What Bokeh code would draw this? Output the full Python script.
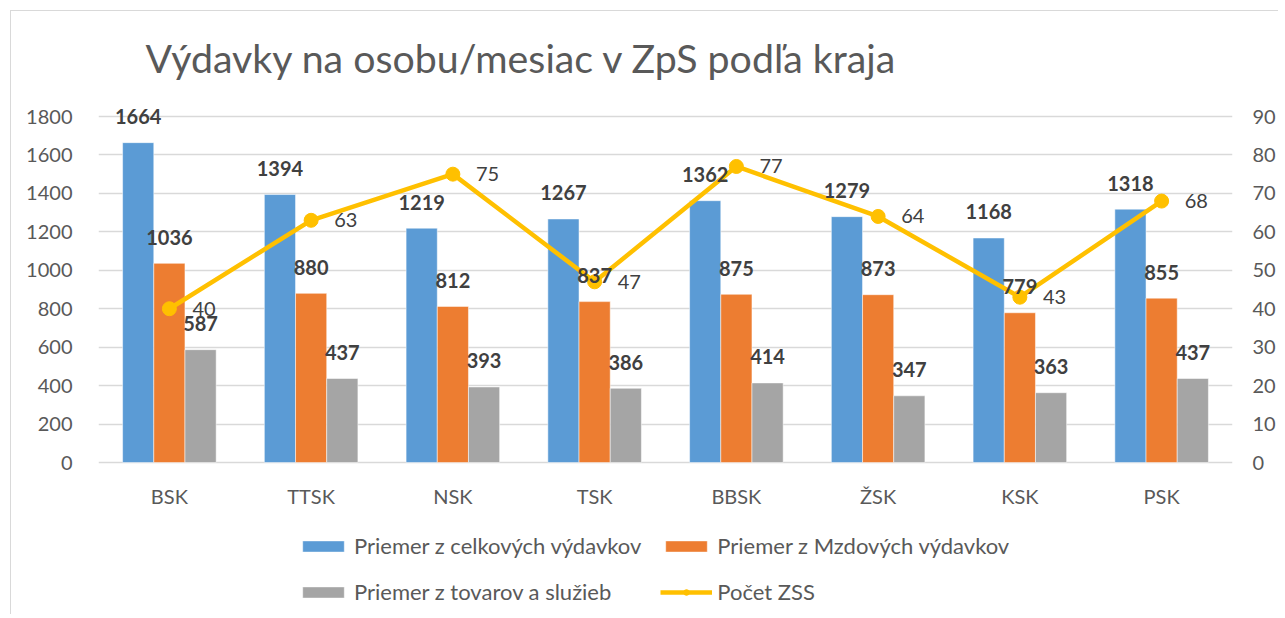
from bokeh.plotting import figure
from bokeh.models import ColumnDataSource, Range1d, LinearAxis, FixedTicker, Legend, LegendItem, Title
from bokeh.transform import dodge
from bokeh.core.properties import value
from bokeh.embed import file_html
from bokeh.resources import INLINE

kraje = ["BSK", "TTSK", "NSK", "TSK", "BBSK", "ŽSK", "KSK", "PSK"]
celkove = [1664, 1394, 1219, 1267, 1362, 1279, 1168, 1318]
mzdove = [1036, 880, 812, 837, 875, 873, 779, 855]
tovary = [587, 437, 393, 386, 414, 347, 363, 437]
pocet_zss = [40, 63, 75, 47, 77, 64, 43, 68]
left_ticks = [0, 200, 400, 600, 800, 1000, 1200, 1400, 1600, 1800]
right_ticks = [0, 10, 20, 30, 40, 50, 60, 70, 80, 90]

FONT = "Lato"
BLUE, ORANGE, GRAY, YELLOW = "#5B9BD5", "#ED7D31", "#A5A5A5", "#FFC000"
TXT = "#595959"
LBL = "#404040"

# layout (pixels): value axis 0..1800 occupies 346 px; frame extended above and below
PX_AXIS = 346
TOP_EXTRA = 16     # frame room above the 1800 line
BOTTOM_EXTRA = 144 # frame room below the 0 line (category labels + legend)
L_MAX, R_MAX = 1800, 90
l_end = L_MAX * (PX_AXIS + TOP_EXTRA) / PX_AXIS
l_start = -L_MAX * BOTTOM_EXTRA / PX_AXIS
r_end = R_MAX * (PX_AXIS + TOP_EXTRA) / PX_AXIS
r_start = -R_MAX * BOTTOM_EXTRA / PX_AXIS
OFF = 11  # outer margin + chart border

src = ColumnDataSource(dict(
    kraj=kraje, celk=celkove, mzd=mzdove, tov=tovary, poc=pocet_zss,
    celk_s=[str(v) for v in celkove], mzd_s=[str(v) for v in mzdove],
    tov_s=[str(v) for v in tovary], poc_s=[str(v) for v in pocet_zss],
    zero=[0] * len(kraje),
))

p = figure(x_range=kraje, y_range=Range1d(l_start, l_end),
           frame_width=1134, frame_height=PX_AXIS + TOP_EXTRA + BOTTOM_EXTRA,
           min_border_left=98 - OFF, min_border_right=45, min_border_top=100 - OFF,
           min_border_bottom=8,
           output_backend="svg", toolbar_location=None)
p.margin = (10, 0, 0, 10)
p.styles = {"border-left": "1px solid #D9D9D9", "border-top": "1px solid #D9D9D9"}
p.extra_y_ranges = {"y2": Range1d(r_start, r_end)}

title = Title(text="Výdavky na osobu/mesiac v ZpS podľa kraja", align="left", offset=47,
              text_font=FONT, text_font_size="39.3px", text_font_style="normal",
              text_color=TXT, standoff=39)
p.add_layout(title, "above")

p.outline_line_color = None
p.background_fill_color = "white"
p.border_fill_color = "white"

p.xgrid.grid_line_color = None
p.ygrid.grid_line_color = "#D9D9D9"
p.ygrid.grid_line_width = 1.3
p.yaxis.ticker = FixedTicker(ticks=left_ticks)
p.xaxis.visible = False

ya = p.yaxis[0]
ya.axis_line_color = None
ya.major_tick_line_color = None
ya.minor_tick_line_color = None
ya.major_label_text_font = FONT
ya.major_label_text_font_size = "20px"
ya.major_label_text_color = TXT
ya.major_label_standoff = 20

ax2 = LinearAxis(y_range_name="y2", ticker=FixedTicker(ticks=right_ticks))
ax2.axis_line_color = None
ax2.major_tick_line_color = None
ax2.minor_tick_line_color = None
ax2.major_label_text_font = FONT
ax2.major_label_text_font_size = "20px"
ax2.major_label_text_color = TXT
ax2.major_label_standoff = 14
p.add_layout(ax2, "right")

# category labels under the zero line
p.text(x="kraj", y="zero", text="kraj", source=src, text_align="center",
       text_baseline="middle", y_offset=33, text_font=value(FONT),
       text_font_size="20px", text_color=TXT)

W = 0.22
r1 = p.vbar(x=dodge("kraj", -W, range=p.x_range), top="celk", width=W, source=src,
            fill_color=BLUE, line_color="white", line_width=0.5)
r2 = p.vbar(x=dodge("kraj", 0, range=p.x_range), top="mzd", width=W, source=src,
            fill_color=ORANGE, line_color="white", line_width=0.5)
r3 = p.vbar(x=dodge("kraj", W, range=p.x_range), top="tov", width=W, source=src,
            fill_color=GRAY, line_color="white", line_width=0.5)

rl = p.line(x="kraj", y="poc", source=src, y_range_name="y2", line_color=YELLOW, line_width=4.5)
rs = p.scatter(x="kraj", y="poc", source=src, y_range_name="y2", size=14,
               fill_color=YELLOW, line_color=YELLOW)

for off, col, s in [(-W, "celk", "celk_s"), (0, "mzd", "mzd_s"), (W, "tov", "tov_s")]:
    p.text(x=dodge("kraj", off, range=p.x_range), y=col, text=s, source=src,
           text_align="center", text_baseline="alphabetic", y_offset=-26,
           text_font=value(FONT), text_font_size="20px", text_font_style="bold",
           text_color=LBL)

p.text(x="kraj", y="poc", text="poc_s", source=src, y_range_name="y2",
       text_align="left", text_baseline="middle", x_offset=23,
       text_font=value(FONT), text_font_size="20px", text_color=LBL)

# Bokeh fills legend columns first: order so rows read as in the reference
legend = Legend(items=[
    LegendItem(label="Priemer z celkových výdavkov", renderers=[r1]),
    LegendItem(label="Priemer z tovarov a služieb", renderers=[r3]),
    LegendItem(label="Priemer z Mzdových výdavkov", renderers=[r2]),
    LegendItem(label="Počet ZSS", renderers=[rl, rs]),
], ncols=2, location=(199, 1))
legend.label_text_font = FONT
legend.label_text_font_size = "22px"
legend.label_text_color = TXT
legend.glyph_width = 52
legend.glyph_height = 14
legend.label_standoff = 5
legend.spacing = 19
legend.padding = 0
legend.margin = 0
legend.border_line_color = None
legend.background_fill_alpha = 0
p.add_layout(legend, "center")

open("out.html", "w").write(file_html(p, INLINE))
